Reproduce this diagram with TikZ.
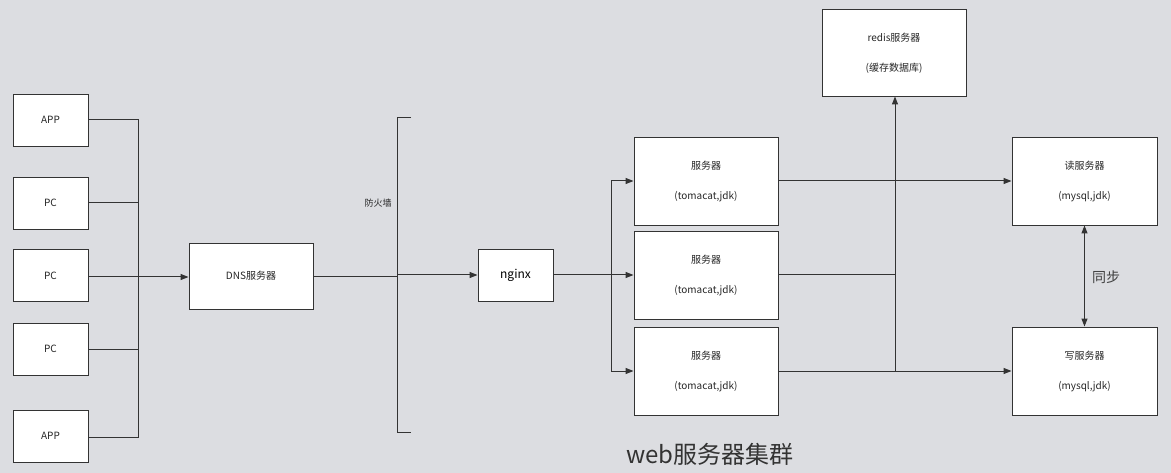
\documentclass[tikz,border=0pt]{standalone}
\usepackage{fontspec}
\setmainfont{Noto Sans CJK SC}
\usetikzlibrary{arrows.meta}
\definecolor{bg}{HTML}{DCDDE1}
\definecolor{ln}{HTML}{333333}
\begin{document}
\begin{tikzpicture}[x=1pt,y=-1pt,
  box/.style={draw=ln,fill=white,line width=0.9pt,inner sep=0},
  txt/.style={font=\fontsize{10}{11}\selectfont,text=black!85},
  con/.style={draw=ln,line width=1pt},
  arr/.style={con,-{Triangle[length=8pt,width=6pt]}}]
\fill[bg] (0,0) rectangle (1171,473);
\useasboundingbox (0,0) rectangle (1171,473);
% clients
\foreach \n/\t/\a/\b in {a1/APP/94/146,p1/PC/177/229,p2/PC/249/302,p3/PC/323/375,a2/APP/410/462}{
  \node[box,minimum width=75pt,minimum height=52pt] (\n) at (50.5,{(\a+\b)/2}) {};
  \node[txt] at (\n) {\t};
}
\node[box,minimum width=124pt,minimum height=66pt] (dns) at (251,276) {};
\node[txt] at (dns) {DNS服务器};
\coordinate (bus) at (138,277);
\draw[con] (a1.east |- 0,120) -| (138,437) -- (a2.east |- 0,437);
\draw[con] (p1.east |- 0,203) -- (138,203);
\draw[con] (p2.east |- 0,277) -- (138,277);
\draw[con] (p3.east |- 0,349) -- (138,349);
\draw[arr] (bus) -- (dns.west |- bus);
% firewall
\coordinate (fwt) at (397,118);
\coordinate (fwb) at (397,432);
\draw[con] (411,118) -- (fwt) -- (fwb) -- (411,432);
\node[txt,font=\fontsize{9}{10}\selectfont] (fwl) at (378,203) {防火墙};
\node[box,minimum width=75pt,minimum height=52pt] (ng) at (515.5,275) {};
\node[font=\fontsize{12}{13}\selectfont] at (ng) {nginx};
\draw[con] (dns.east |- 0,277) -- (397,277);
\draw[arr] (397,275) -- (ng.west);
% servers
\foreach \n/\y in {s1/181,s2/275,s3/371}{
  \node[box,minimum width=144pt,minimum height=88pt] (\n) at (706,\y) {};
  \node[txt] at (706,\y-15) {服务器};
  \node[txt] at (706,\y+16) {(tomacat,jdk)};
}
\coordinate (br) at (611,275);
\draw[con] (ng.east) -- (br);
\draw[arr] (611,275) |- (s1.west);
\draw[arr] (611,275) |- (s3.west);
\draw[arr] (br) -- (s2.west);
% redis
\node[box,minimum width=144pt,minimum height=87pt] (rd) at (894,52.5) {};
\node[txt] at (894,38) {redis服务器};
\node[txt] at (894,68) {(缓存数据库)};
\node[box,minimum width=145pt,minimum height=88pt] (rs) at (1084.5,181) {};
\node[txt] at (1084.5,166) {读服务器};
\node[txt] at (1084.5,197) {(mysql,jdk)};
\node[box,minimum width=145pt,minimum height=88pt] (ws) at (1084.5,371) {};
\node[txt] at (1084.5,356) {写服务器};
\node[txt] at (1084.5,387) {(mysql,jdk)};
\coordinate (vb) at (895,371);
\draw[arr] (vb) -- (rd.south -| vb);
\draw[arr] (s1.east) -- (rs.west);
\draw[con] (s2.east) -- (895,275);
\draw[arr] (s3.east) -- (ws.west);
\draw[con,{Triangle[length=8pt,width=6pt]}-{Triangle[length=8pt,width=6pt]}] (rs.south) -- (ws.north);
\node[font=\fontsize{14}{15}\selectfont,text=black!75] (sync) at (1106,277) {同步};
\node[font=\fontsize{24}{26}\selectfont,text=black!80] (title) at (710,454) {web服务器集群};
\end{tikzpicture}
\end{document}
